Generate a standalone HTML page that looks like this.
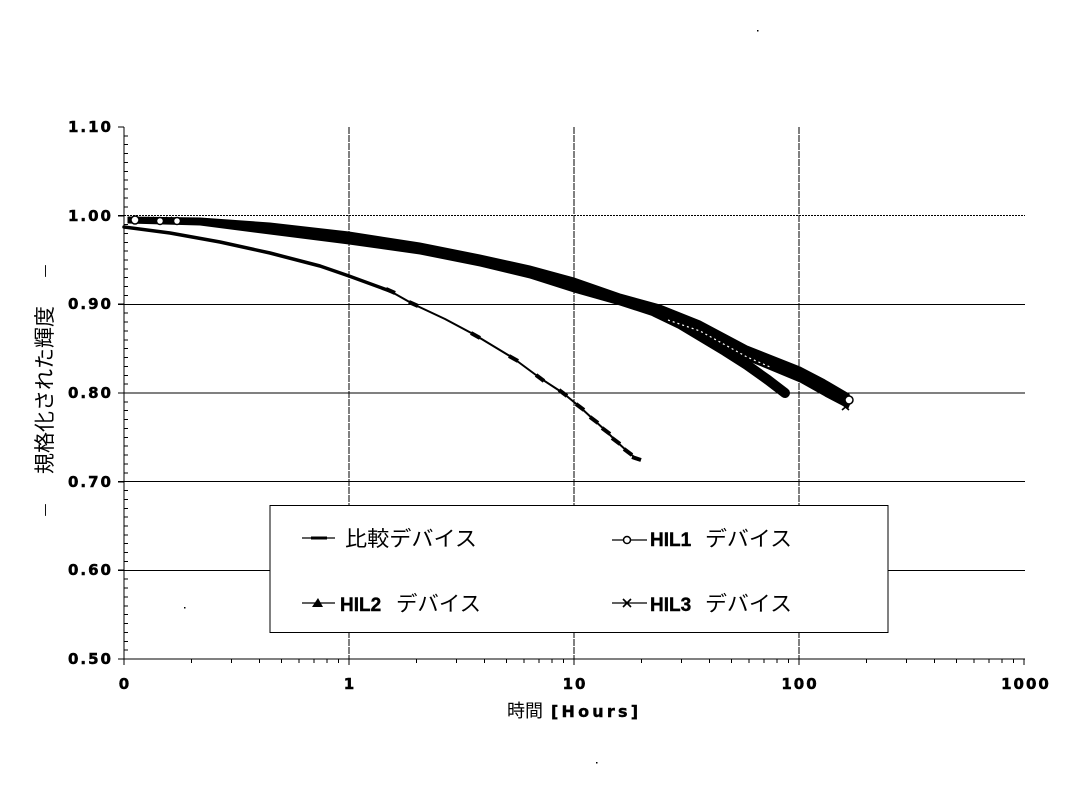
<!DOCTYPE html>
<html>
<head>
<meta charset="utf-8">
<style>
  html,body{margin:0;padding:0;background:#fff;}
  body{width:1087px;height:787px;overflow:hidden;}
  svg{display:block;}
  .tk{font-family:"DejaVu Sans","Liberation Sans",sans-serif;font-weight:bold;font-size:15px;letter-spacing:2px;fill:#000;stroke:#000;stroke-width:0.5px;}
  .jp{font-family:"Liberation Sans","Noto Sans CJK JP",sans-serif;fill:#000;}
  .hil{font-family:"Liberation Sans",sans-serif;font-weight:bold;font-size:19px;fill:#000;stroke:#000;stroke-width:0.4px;}
</style>
</head>
<body>
<svg width="1087" height="787" viewBox="0 0 1087 787" xmlns="http://www.w3.org/2000/svg">
  <rect width="1087" height="787" fill="#fff"/>

  <!-- horizontal gridlines -->
  <g stroke="#000" stroke-width="1" shape-rendering="crispEdges">
    <line x1="124" y1="215.7" x2="1025" y2="215.7" stroke-dasharray="2,1"/>
    <line x1="124" y1="304.3" x2="1025" y2="304.3"/>
    <line x1="124" y1="393" x2="1025" y2="393"/>
    <line x1="124" y1="481.7" x2="1025" y2="481.7"/>
    <line x1="124" y1="570.3" x2="1025" y2="570.3"/>
  </g>
  <!-- vertical gridlines -->
  <g stroke="#000" stroke-width="1" shape-rendering="crispEdges" stroke-dasharray="7,1">
    <line x1="349" y1="127" x2="349" y2="659"/>
    <line x1="574" y1="127" x2="574" y2="659"/>
    <line x1="799" y1="127" x2="799" y2="659"/>
  </g>

  <!-- axes -->
  <g stroke="#000" stroke-width="1.3" shape-rendering="crispEdges" fill="none">
    <line x1="124" y1="127" x2="124" y2="660"/>
    <line x1="124" y1="659" x2="1025" y2="659"/>
    <path d="M118 127H124M118 215.7H124M118 304.3H124M118 393H124M118 481.7H124M118 570.3H124M118 659H124"/>
    <path d="M124 659V665M349 659V665M574 659V665M799 659V665M1024 659V665"/>
  </g>
  <!-- minor y ticks -->
  <path stroke="#000" stroke-width="1" shape-rendering="crispEdges" fill="none" d="M124 135.9h4M124 144.7h4M124 153.6h4M124 162.5h4M124 171.3h4M124 180.2h4M124 189.1h4M124 197.9h4M124 206.8h4M124 224.5h4M124 233.4h4M124 242.3h4M124 251.1h4M124 260h4M124 268.9h4M124 277.7h4M124 286.6h4M124 295.5h4M124 313.2h4M124 322.1h4M124 330.9h4M124 339.8h4M124 348.7h4M124 357.5h4M124 366.4h4M124 375.3h4M124 384.1h4M124 401.9h4M124 410.7h4M124 419.6h4M124 428.5h4M124 437.3h4M124 446.2h4M124 455.1h4M124 463.9h4M124 472.8h4M124 490.5h4M124 499.4h4M124 508.3h4M124 517.1h4M124 526h4M124 534.9h4M124 543.7h4M124 552.6h4M124 561.5h4M124 579.2h4M124 588.1h4M124 596.9h4M124 605.8h4M124 614.7h4M124 623.5h4M124 632.4h4M124 641.3h4M124 650.1h4"/>
  <!-- minor x ticks -->
  <path stroke="#000" stroke-width="1" shape-rendering="crispEdges" fill="none" d="M191.7 659v4M231.4 659v4M259.5 659v4M281.3 659v4M299.1 659v4M314.2 659v4M327.2 659v4M338.7 659v4M416.7 659v4M456.4 659v4M484.5 659v4M506.3 659v4M524.1 659v4M539.2 659v4M552.2 659v4M563.7 659v4M641.7 659v4M681.4 659v4M709.5 659v4M731.3 659v4M749.1 659v4M764.2 659v4M777.2 659v4M788.7 659v4M866.7 659v4M906.4 659v4M934.5 659v4M956.3 659v4M974.1 659v4M989.2 659v4M1002.2 659v4M1013.7 659v4"/>

  <!-- y tick labels -->
  <g class="tk" text-anchor="end">
    <text x="113" y="132">1.10</text>
    <text x="113" y="221">1.00</text>
    <text x="113" y="309">0.90</text>
    <text x="113" y="398">0.80</text>
    <text x="113" y="487">0.70</text>
    <text x="113" y="575">0.60</text>
    <text x="113" y="664">0.50</text>
  </g>
  <!-- x tick labels -->
  <g class="tk" text-anchor="middle">
    <text x="125" y="689">0</text>
    <text x="350" y="689">1</text>
    <text x="575" y="689">10</text>
    <text x="800" y="689">100</text>
    <text x="1026" y="689">1000</text>
  </g>

  <!-- axis titles -->
  <text x="507" y="717" class="jp" font-size="18">時間</text>
  <text x="551" y="717" font-family="DejaVu Sans, Liberation Sans, sans-serif" font-weight="bold" font-size="16" letter-spacing="3.2" fill="#000" stroke="#000" stroke-width="0.4">[Hours]</text>

  <g transform="rotate(-90 45 390)">
    <text x="45" y="397" class="jp" font-size="21" text-anchor="middle">規格化された輝度</text>
  </g>
  <g transform="rotate(-90 45 271)">
    <text x="45" y="275" font-family="DejaVu Sans, sans-serif" font-size="13" text-anchor="middle" fill="#000">—</text>
  </g>
  <g transform="rotate(-90 45 510)">
    <text x="45" y="514" font-family="DejaVu Sans, sans-serif" font-size="13" text-anchor="middle" fill="#000">—</text>
  </g>

  <!-- 比較 curve -->
  <polyline fill="none" stroke="#000" stroke-width="3.5" stroke-linejoin="round" stroke-linecap="round"
    points="124,227 170,233 220,242 270,253 320,266 349,276 390,291"/>
  <polyline fill="none" stroke="#000" stroke-width="2" stroke-linejoin="round"
    points="390,291 413,304 445,319 475,335 513,358 540,378 563,393 580,407 594,420 606,431 616,441 628,452 638,460"/>
  <g stroke="#000" stroke-width="4" stroke-linecap="butt">
    <line x1="386" y1="289" x2="395" y2="293"/>
    <line x1="409" y1="302" x2="418" y2="306"/>
    <line x1="471" y1="333" x2="480" y2="338"/>
    <line x1="509" y1="356" x2="518" y2="361"/>
    <line x1="536" y1="375" x2="544" y2="381"/>
    <line x1="559" y1="390" x2="567" y2="396"/>
    <line x1="576" y1="404" x2="584" y2="410"/>
    <line x1="590" y1="417" x2="598" y2="423"/>
    <line x1="602" y1="428" x2="610" y2="434"/>
    <line x1="612" y1="438" x2="620" y2="444"/>
    <line x1="624" y1="449" x2="632" y2="455"/>
    <line x1="632" y1="457" x2="641" y2="460"/>
  </g>

  <!-- HIL2 branch -->
  <polyline fill="none" stroke="#000" stroke-width="10" stroke-linejoin="round" stroke-linecap="round"
    points="655,312 680,324 700,336 725,351 747,365 768,380 785,393"/>
  <!-- HIL1/HIL3 common band + upper branch -->
  <polygon fill="#000" stroke="#000" stroke-width="1" stroke-linejoin="round"
    points="128,217 200,218 270,223 349,232 420,243 480,255 530,266 574,278 620,294 660,305 700,321 747,346 800,367 825,380 849,394 851,401 848,408 825,396 800,382 747,360 700,334 660,318 620,305 574,292 530,278 480,266 420,254 349,244 270,234 200,225 128,223"/>
  <polyline fill="none" stroke="#fff" stroke-width="1.2" stroke-dasharray="2,3"
    points="668,320 700,331 747,357 770,367"/>
  <!-- sparse start markers -->
  <g fill="#fff" stroke="#000" stroke-width="1.5">
    <circle cx="135" cy="220" r="4"/>
    <circle cx="160" cy="221" r="3.5"/>
    <circle cx="177" cy="221" r="3.5"/>
    <circle cx="849" cy="400" r="4"/>
  </g>
  <g stroke="#000" stroke-width="1.6">
    <path d="M148 217l6 6M154 217l-6 6M166 217l6 6M172 217l-6 6M188 218l6 6M194 218l-6 6"/>
    <path d="M842 404l7 6M849 404l-7 6"/>
  </g>

  <!-- legend -->
  <rect x="270" y="505.5" width="618" height="127" fill="#fff" stroke="#000" stroke-width="1" shape-rendering="crispEdges"/>
  <line x1="302" y1="538" x2="335" y2="538" stroke="#000" stroke-width="1.2"/>
  <line x1="311" y1="538" x2="327" y2="538" stroke="#000" stroke-width="3"/>
  <text x="345" y="546" class="jp" font-size="21" textLength="132" lengthAdjust="spacingAndGlyphs">比較デバイス</text>

  <line x1="302" y1="603" x2="335" y2="603" stroke="#000" stroke-width="1.2"/>
  <polygon points="312,607 318,598 323,607" fill="#000"/>
  <text x="340" y="611" class="hil">HIL2</text>
  <text x="396" y="611" class="jp" font-size="21" textLength="85" lengthAdjust="spacingAndGlyphs">デバイス</text>

  <line x1="612" y1="540" x2="647" y2="540" stroke="#000" stroke-width="1.2"/>
  <circle cx="627" cy="540" r="3.5" fill="#fff" stroke="#000" stroke-width="1.5"/>
  <text x="650" y="546" class="hil">HIL1</text>
  <text x="705" y="546" class="jp" font-size="21" textLength="87" lengthAdjust="spacingAndGlyphs">デバイス</text>

  <line x1="612" y1="603" x2="647" y2="603" stroke="#000" stroke-width="1.2"/>
  <path d="M623 599l8 8M631 599l-8 8" stroke="#000" stroke-width="1.6"/>
  <text x="650" y="611" class="hil">HIL3</text>
  <text x="705" y="611" class="jp" font-size="21" textLength="87" lengthAdjust="spacingAndGlyphs">デバイス</text>

  <!-- stray specks -->
  <rect x="757" y="30" width="1.5" height="1.5" fill="#000"/>
  <rect x="596" y="762" width="1.5" height="1.5" fill="#000"/>
  <rect x="184" y="607" width="1.5" height="1.5" fill="#000"/>
</svg>
</body>
</html>
